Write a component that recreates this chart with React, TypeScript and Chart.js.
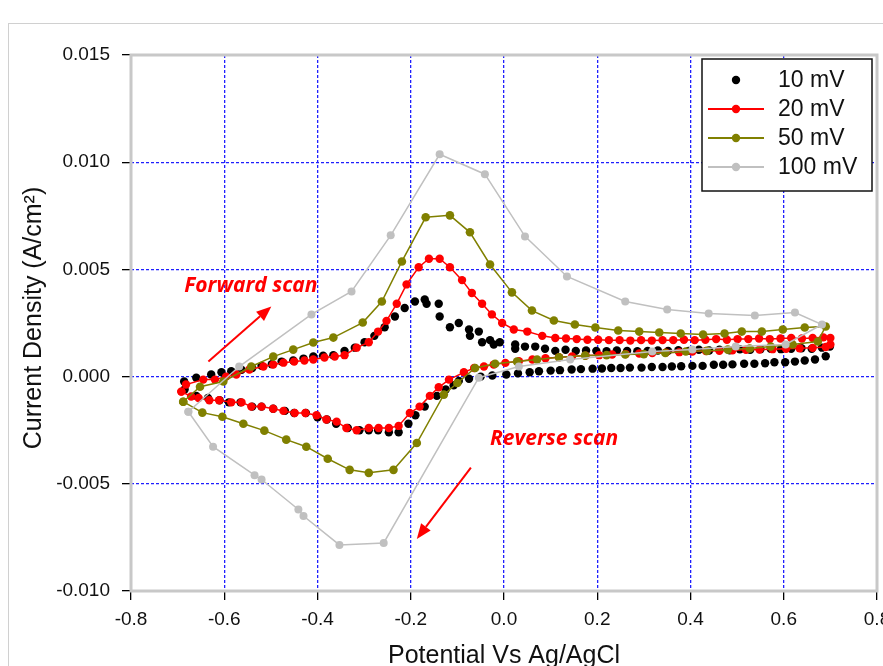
import React, { useEffect, useRef } from "react";
import { Chart, registerables } from "chart.js";

Chart.register(...registerables);

// Axis ticks
const potentialTicks = [-0.8, -0.6, -0.4, -0.2, 0.0, 0.2, 0.4, 0.6, 0.8];
const currentTicks = [-0.01, -0.005, 0.0, 0.005, 0.01, 0.015];

const scanRates = ["10 mV", "20 mV", "50 mV", "100 mV"];

// 10 mV/s sweep (forward, then reverse)
const pot10 = [
  -0.686, -0.660, -0.628, -0.606, -0.585, -0.563, -0.540, -0.520, -0.498, -0.477,
  -0.452, -0.430, -0.409, -0.388, -0.366, -0.342, -0.320, -0.299, -0.278, -0.256,
  -0.234, -0.213, -0.191, -0.170, -0.166, -0.140, -0.138, -0.116, -0.097, -0.075,
  -0.073, -0.054, -0.047, -0.030, -0.022, -0.009,
  0.024, 0.024, 0.045, 0.067, 0.088, 0.110,
  0.132, 0.154, 0.176, 0.198, 0.220, 0.242, 0.264, 0.286, 0.308, 0.330,
  0.352, 0.374, 0.396, 0.418, 0.440, 0.462, 0.484, 0.506, 0.528, 0.550,
  0.572, 0.594, 0.616, 0.638, 0.660, 0.682, 0.699,
  0.690, 0.667, 0.645, 0.624, 0.603, 0.580, 0.560, 0.537, 0.515, 0.490,
  0.470, 0.450, 0.426, 0.404, 0.380, 0.360, 0.340, 0.317, 0.295, 0.270,
  0.250, 0.230, 0.210, 0.190, 0.165, 0.145, 0.120, 0.100, 0.075, 0.055,
  0.030, 0.005, -0.025, -0.050, -0.075, -0.097, -0.108, -0.125, -0.144, -0.170,
  -0.190, -0.205, -0.226, -0.247, -0.270, -0.290, -0.310, -0.335, -0.360, -0.380,
  -0.400, -0.425, -0.450, -0.470, -0.495, -0.520, -0.540, -0.565, -0.590, -0.610,
  -0.635, -0.660, -0.685,
];
const cur10 = [
  -0.00023, -0.00005, 0.0001, 0.0002, 0.00025, 0.00032, 0.0004, 0.0005, 0.00058, 0.0007,
  0.00075, 0.00084, 0.00094, 0.00097, 0.001, 0.0012, 0.00135, 0.0016, 0.0019, 0.0023,
  0.0028, 0.0032, 0.0035, 0.0036, 0.0034, 0.0034, 0.0028, 0.0023, 0.0025, 0.0022,
  0.0019, 0.0021, 0.0016, 0.0017, 0.0015, 0.0016,
  0.0015, 0.0013, 0.0014, 0.0014, 0.0013, 0.0012,
  0.00125, 0.0012, 0.00122, 0.0012, 0.00118, 0.00122, 0.0012, 0.00118, 0.0012, 0.00122,
  0.0012, 0.00123, 0.0012, 0.00125, 0.00122, 0.00125, 0.00123, 0.00127, 0.00125, 0.00128,
  0.0013, 0.00128, 0.0013, 0.00132, 0.0013, 0.00135, 0.0014,
  0.00095, 0.0008, 0.00075, 0.0007, 0.00067, 0.00067, 0.00062, 0.0006, 0.0006, 0.00057,
  0.00055, 0.00055, 0.0005, 0.0005, 0.00048, 0.00047, 0.00045, 0.00045, 0.00042, 0.00042,
  0.0004, 0.0004, 0.00038, 0.00037, 0.00035, 0.00033, 0.0003, 0.00028, 0.00025, 0.0002,
  0.00015, 0.0001, 0.00005, 0.0, -0.0001, -0.0002, -0.0004, -0.0006, -0.0009, -0.0014,
  -0.0018, -0.0022, -0.0026, -0.0026, -0.0025, -0.0025, -0.0025, -0.0024, -0.0022, -0.002,
  -0.0019, -0.0017, -0.0017, -0.0016, -0.0015, -0.0014, -0.0014, -0.0012, -0.0012, -0.0011,
  -0.001, -0.0009, -0.0006,
];

// 20 mV/s sweep
const pot20 = [
  -0.692, -0.682, -0.645, -0.620, -0.596, -0.574, -0.546, -0.516, -0.495, -0.473,
  -0.450, -0.428, -0.409, -0.385, -0.363, -0.342, -0.316, -0.290, -0.270, -0.252,
  -0.230, -0.209, -0.183, -0.161, -0.138, -0.116, -0.090, -0.069, -0.047, -0.026,
  -0.004, 0.021, 0.050, 0.082, 0.110,
  0.133, 0.156, 0.179, 0.202, 0.225, 0.248, 0.271, 0.294, 0.317, 0.340,
  0.363, 0.386, 0.409, 0.432, 0.455, 0.478, 0.501, 0.524, 0.547, 0.570,
  0.593, 0.616, 0.639, 0.662, 0.685, 0.700,
  0.700, 0.690, 0.662, 0.634, 0.605, 0.576, 0.548, 0.519, 0.490, 0.462,
  0.433, 0.404, 0.376, 0.347, 0.318, 0.290, 0.261, 0.232, 0.204, 0.175,
  0.146, 0.118, 0.089, 0.061, 0.032, 0.003, -0.022, -0.043, -0.064, -0.086,
  -0.118, -0.140, -0.159, -0.181, -0.202, -0.226, -0.247, -0.269, -0.290, -0.316,
  -0.338, -0.359, -0.381, -0.402, -0.426, -0.449, -0.473, -0.495, -0.520, -0.542,
  -0.563, -0.585, -0.611, -0.632, -0.655, -0.671, -0.692,
];
const cur20 = [
  -0.0007, -0.00037, -0.00014, -0.00014, 0.0, 0.0001, 0.00033, 0.00047, 0.00056, 0.00065,
  0.0007, 0.00075, 0.0008, 0.00089, 0.00094, 0.001, 0.00135, 0.0016, 0.0021, 0.0026,
  0.0034, 0.0043, 0.0051, 0.0055, 0.0055, 0.0051, 0.0045, 0.0039, 0.0034, 0.0029,
  0.0025, 0.0022, 0.0021, 0.0019, 0.0018,
  0.00178, 0.00175, 0.00172, 0.00172, 0.0017, 0.0017, 0.00168, 0.0017, 0.00168, 0.0017,
  0.0017, 0.00172, 0.0017, 0.00172, 0.00175, 0.00172, 0.00175, 0.00175, 0.00178, 0.00175,
  0.00178, 0.0018, 0.00178, 0.0018, 0.00183, 0.0018,
  0.0015, 0.00138, 0.00134, 0.00132, 0.0013, 0.00128, 0.00126, 0.00125, 0.00123, 0.0012,
  0.00119, 0.00117, 0.00114, 0.00112, 0.0011, 0.00108, 0.00105, 0.00103, 0.001, 0.00098,
  0.00094, 0.0009, 0.00086, 0.0008, 0.00072, 0.00064, 0.00056, 0.00047, 0.0004, 0.0002,
  -0.00014, -0.0005, -0.0009, -0.0014, -0.0017, -0.0023, -0.0024, -0.0024, -0.0024, -0.0025,
  -0.0024, -0.0021, -0.002, -0.0018, -0.0017, -0.0017, -0.0016, -0.0015, -0.0014, -0.0014,
  -0.0012, -0.0012, -0.0011, -0.0011, -0.001, -0.00093, -0.0007,
];

// 50 mV/s sweep
const pot50 = [
  -0.688, -0.652, -0.602, -0.542, -0.495, -0.452, -0.409, -0.366, -0.303, -0.262,
  -0.219, -0.168, -0.116, -0.073, -0.030, 0.017, 0.060, 0.107, 0.152, 0.196,
  0.245, 0.290, 0.333, 0.379, 0.427, 0.473, 0.510, 0.553, 0.598, 0.645,
  0.690,
  0.673, 0.619, 0.572, 0.527, 0.480, 0.435, 0.390, 0.346, 0.300, 0.260,
  0.220, 0.174, 0.118, 0.071, 0.028, -0.019, -0.062, -0.100, -0.129, -0.187,
  -0.237, -0.290, -0.331, -0.378, -0.424, -0.467, -0.514, -0.559, -0.604, -0.647,
  -0.688,
];
const cur50 = [
  -0.00117, -0.00047, -0.00023, 0.00047, 0.00093, 0.00126, 0.00159, 0.00182, 0.00252, 0.0035,
  0.00537, 0.00743, 0.00752, 0.00673, 0.00523, 0.00393, 0.00308, 0.00262, 0.00243, 0.00229,
  0.00215, 0.0021, 0.00206, 0.00201, 0.00196, 0.00201, 0.0021, 0.0021, 0.0022, 0.00229,
  0.00234,
  0.00164, 0.0015, 0.0014, 0.00131, 0.00126, 0.0012, 0.00117, 0.0011, 0.00105, 0.00103,
  0.001, 0.00098, 0.0009, 0.0008, 0.0007, 0.0006, 0.0004, -0.0003, -0.00084, -0.0031,
  -0.00435, -0.00449, -0.00435, -0.00383, -0.00327, -0.00294, -0.00252, -0.0022, -0.00187, -0.00168,
  -0.00117,
];

// 100 mV/s sweep
const pot100 = [
  -0.677, -0.568, -0.413, -0.327, -0.243, -0.138, -0.041, 0.045, 0.135, 0.260,
  0.350, 0.439, 0.538, 0.624, 0.682, 0.604, 0.497, 0.404, 0.318, 0.142,
  0.032, -0.054, -0.258, -0.353, -0.430, -0.441, -0.520, -0.535, -0.624, -0.677,
];
const cur100 = [
  -0.00164, 0.00047, 0.0029, 0.00397, 0.00659, 0.01037, 0.00944, 0.00654, 0.00467, 0.0035,
  0.00313, 0.00294, 0.00285, 0.00299, 0.00243, 0.0015, 0.0014, 0.00126, 0.00117, 0.0008,
  0.00047, -0.00005, -0.00776, -0.00785, -0.0065, -0.0062, -0.0048, -0.0046, -0.00327, -0.00164,
];

const toPoints = (xs: number[], ys: number[]) => xs.map((x, i) => ({ x, y: ys[i] }));

const SANS = "'Liberation Sans', Arial, sans-serif";
const BLACK = "#000000";
const RED = "#ff0000";
const OLIVE = "#808000";
const SILVER = "#c0c0c0";
const GRID_BLUE = "#1f1fff";

const legendStyles = [
  { color: BLACK, line: false },
  { color: RED, line: true },
  { color: OLIVE, line: true },
  { color: SILVER, line: true },
];

// Light grey plot frame around the chart area
const framePlugin = {
  id: "plotFrame",
  beforeDatasetsDraw(chart: any) {
    const { ctx, chartArea: a } = chart;
    ctx.save();
    ctx.strokeStyle = "#c8c8c8";
    ctx.lineWidth = 3;
    ctx.strokeRect(a.left, a.top, a.right - a.left, a.bottom - a.top);
    ctx.restore();
  },
};

function drawArrow(ctx: CanvasRenderingContext2D, x0: number, y0: number, x1: number, y1: number) {
  const ang = Math.atan2(y1 - y0, x1 - x0);
  const head = 15;
  const half = 6;
  const bx = x1 - head * Math.cos(ang);
  const by = y1 - head * Math.sin(ang);
  ctx.beginPath();
  ctx.moveTo(x0, y0);
  ctx.lineTo(bx, by);
  ctx.stroke();
  ctx.beginPath();
  ctx.moveTo(x1, y1);
  ctx.lineTo(bx + half * Math.sin(ang), by - half * Math.cos(ang));
  ctx.lineTo(bx - half * Math.sin(ang), by + half * Math.cos(ang));
  ctx.closePath();
  ctx.fill();
}

// Scan direction notes
const scanNotesPlugin = {
  id: "scanNotes",
  afterDatasetsDraw(chart: any) {
    const { ctx } = chart;
    const xs = chart.scales.x;
    const ys = chart.scales.y;
    const px = (v: number) => xs.getPixelForValue(v);
    const py = (v: number) => ys.getPixelForValue(v);
    ctx.save();
    ctx.fillStyle = RED;
    ctx.strokeStyle = RED;
    ctx.lineWidth = 2;
    ctx.font = "italic bold 21px 'Open Sans', Lato, sans-serif";
    ctx.textBaseline = "alphabetic";
    ctx.textAlign = "left";
    ctx.fillText("Forward scan", px(-0.686), py(0.00393));
    ctx.fillText("Reverse scan", px(-0.03), py(-0.00318));
    drawArrow(ctx, px(-0.634), py(0.0007), px(-0.499), py(0.00327));
    drawArrow(ctx, px(-0.071), py(-0.00425), px(-0.187), py(-0.00757));
    ctx.restore();
  },
};

// Axis titles
const axisTitlePlugin = {
  id: "axisTitles",
  afterDraw(chart: any) {
    const { ctx, chartArea: a } = chart;
    ctx.save();
    ctx.fillStyle = "#111111";
    ctx.font = `25px ${SANS}`;
    ctx.textAlign = "center";
    ctx.textBaseline = "alphabetic";
    ctx.fillText("Potential Vs Ag/AgCl", (a.left + a.right) / 2, 663);
    ctx.translate(41, 318);
    ctx.rotate(-Math.PI / 2);
    ctx.fillText("Current Density (A/cm\u00B2)", 0, 0);
    ctx.restore();
  },
};

// Boxed legend in the upper right corner
const boxLegendPlugin = {
  id: "boxLegend",
  afterDraw(chart: any) {
    const { ctx } = chart;
    const left = 702;
    const top = 59;
    const w = 170;
    const h = 132;
    ctx.save();
    ctx.fillStyle = "#ffffff";
    ctx.fillRect(left, top, w, h);
    ctx.strokeStyle = "#111111";
    ctx.lineWidth = 1.5;
    ctx.strokeRect(left, top, w, h);
    ctx.font = `23px ${SANS}`;
    ctx.textBaseline = "middle";
    ctx.textAlign = "left";
    scanRates.forEach((label, i) => {
      const st = legendStyles[i];
      const cy = top + 21 + i * 29;
      if (st.line) {
        ctx.strokeStyle = st.color;
        ctx.lineWidth = 2;
        ctx.beginPath();
        ctx.moveTo(left + 6, cy);
        ctx.lineTo(left + 62, cy);
        ctx.stroke();
      }
      ctx.fillStyle = st.color;
      ctx.beginPath();
      ctx.arc(left + 34, cy, 4.2, 0, Math.PI * 2);
      ctx.fill();
      ctx.fillStyle = "#111111";
      ctx.fillText(label, left + 76, cy + 1);
    });
    ctx.restore();
  },
};

export default function App() {
  const canvasRef = useRef<HTMLCanvasElement | null>(null);

  useEffect(() => {
    const canvas = canvasRef.current;
    if (!canvas) return;
    const lineSet = (label: string, xs: number[], ys: number[], color: string, radius: number, order: number) => ({
      label,
      data: toPoints(xs, ys),
      showLine: true,
      borderColor: color,
      borderWidth: 1.5,
      backgroundColor: color,
      pointRadius: radius,
      pointBackgroundColor: color,
      pointBorderColor: color,
      pointBorderWidth: 0,
      tension: 0,
      order,
    });
    const gridOpts = {
      color: GRID_BLUE,
      lineWidth: 1.3,
      tickColor: BLACK,
      tickLength: 9,
      tickWidth: 1.3,
      tickBorderDash: [],
    };
    const chart = new Chart(canvas, {
      type: "scatter",
      data: {
        datasets: [
          {
            label: scanRates[0],
            data: toPoints(pot10, cur10),
            showLine: false,
            pointRadius: 4.2,
            pointBackgroundColor: BLACK,
            pointBorderColor: BLACK,
            pointBorderWidth: 0,
            order: 4,
          },
          lineSet(scanRates[1], pot20, cur20, RED, 4.2, 3),
          lineSet(scanRates[2], pot50, cur50, OLIVE, 4.3, 2),
          lineSet(scanRates[3], pot100, cur100, SILVER, 4, 1),
        ],
      },
      options: {
        responsive: false,
        animation: false,
        layout: { padding: { top: 55, right: 6, left: 0, bottom: 0 } },
        plugins: { legend: { display: false }, tooltip: { enabled: false } },
        scales: {
          x: {
            type: "linear",
            min: -0.8,
            max: 0.8,
            afterBuildTicks: (s: any) => {
              s.ticks = potentialTicks.map((v) => ({ value: v }));
            },
            afterFit: (s: any) => {
              s.height = 75;
              s.paddingLeft = 0;
              s.paddingRight = 0;
            },
            grid: gridOpts,
            border: { display: false, dash: [3, 2] },
            ticks: {
              font: { family: SANS, size: 19 },
              color: "#111111",
              padding: 8,
              maxRotation: 0,
              autoSkip: false,
              callback: (v: any) => Number(v).toFixed(1),
            },
          },
          y: {
            type: "linear",
            min: -0.01,
            max: 0.015,
            afterBuildTicks: (s: any) => {
              s.ticks = currentTicks.map((v) => ({ value: v }));
            },
            afterFit: (s: any) => {
              s.width = 131;
              s.paddingTop = 0;
              s.paddingBottom = 0;
            },
            grid: gridOpts,
            border: { display: false, dash: [3, 2] },
            ticks: {
              font: { family: SANS, size: 19 },
              color: "#111111",
              padding: 12,
              autoSkip: false,
              callback: (v: any) => {
                const n = Number(v);
                return (Math.abs(n) < 1e-9 ? 0 : n).toFixed(3);
              },
            },
          },
        },
      } as any,
      plugins: [framePlugin, scanNotesPlugin, boxLegendPlugin, axisTitlePlugin],
    });
    return () => chart.destroy();
  }, []);

  return (
    <div style={{ position: "fixed", left: 0, top: 0, width: 883, height: 666, background: "#ffffff", overflow: "hidden" }}>
      <div
        style={{
          position: "absolute",
          left: 8,
          top: 23,
          width: 900,
          height: 700,
          borderLeft: "1px solid #d0d0d0",
          borderTop: "1px solid #d0d0d0",
        }}
      />
      <canvas ref={canvasRef} width={883} height={666} style={{ position: "absolute", left: 0, top: 0, width: 883, height: 666 }} />
    </div>
  );
}
